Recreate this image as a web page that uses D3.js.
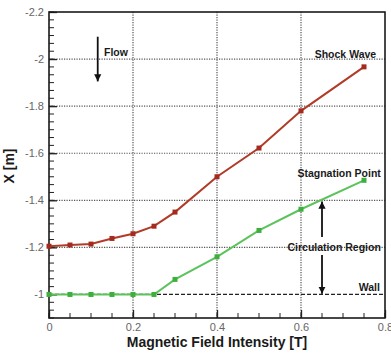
<!DOCTYPE html>
<html>
<head>
<meta charset="utf-8">
<script src="https://cdn.jsdelivr.net/npm/d3@7"></script>
<style>
  body { margin: 0; background: #fff; }
  svg { display: block; font-family: "Liberation Sans", Arial, sans-serif; }
</style>
</head>
<body>
<div id="chart"></div>
<script>
// Shock wave / stagnation point position vs magnetic field intensity
const fieldT = [0, 0.05, 0.1, 0.15, 0.2, 0.25, 0.3, 0.4, 0.5, 0.6, 0.75];
const shockWave = [-1.205, -1.21, -1.214, -1.238, -1.258, -1.29, -1.35, -1.5, -1.622, -1.78, -1.967];
const stagnation = [-1, -1, -1, -1, -1, -1, -1.064, -1.16, -1.272, -1.362, -1.485];
const xTicks = [0, 0.2, 0.4, 0.6, 0.8];
const yTicks = [-2.2, -2, -1.8, -1.6, -1.4, -1.2, -1];
const xGrid = [0.2, 0.4, 0.6];
const yGrid = [-2, -1.8, -1.6, -1.4, -1.2];
const wallX = -1;

const width = 391, height = 354;
const mLeft = 49, mRight = 385, mTop = 12, mBottom = 318;

const svg = d3.select("#chart").append("svg")
  .attr("width", width).attr("height", height);

const x = d3.scaleLinear().domain([0, 0.8]).range([mLeft, mRight]);
const y = d3.scaleLinear().domain([-0.9, -2.2]).range([mBottom, mTop]);

// arrow head
svg.append("defs").append("marker")
  .attr("id", "head")
  .attr("viewBox", "0 0 10 10")
  .attr("refX", 10).attr("refY", 5)
  .attr("markerWidth", 4).attr("markerHeight", 5)
  .attr("markerUnits", "strokeWidth")
  .attr("orient", "auto")
  .append("path").attr("d", "M0,0L10,5L0,10z").attr("fill", "#111");

// grid
svg.append("g").selectAll("line").data(yGrid).join("line")
  .attr("x1", mLeft).attr("x2", mRight)
  .attr("y1", d => y(d)).attr("y2", d => y(d))
  .attr("stroke", "#555").attr("stroke-width", 1.2)
  .attr("stroke-dasharray", "1.2,1.3");
svg.append("g").selectAll("line").data(xGrid).join("line")
  .attr("x1", d => x(d)).attr("x2", d => x(d))
  .attr("y1", mTop).attr("y2", mBottom)
  .attr("stroke", "#555").attr("stroke-width", 1.2)
  .attr("stroke-dasharray", "1.2,1.3");

// wall line
svg.append("line")
  .attr("x1", x(0)).attr("x2", x(0.8))
  .attr("y1", y(wallX)).attr("y2", y(wallX))
  .attr("stroke", "#222").attr("stroke-width", 1.3)
  .attr("stroke-dasharray", "4,2");

// minor ticks (inward)
const yMinor = d3.range(-2.2, -0.9, 0.2 / 6);
svg.append("g").selectAll("line").data(yMinor).join("line")
  .attr("x1", mLeft).attr("x2", mLeft + 5)
  .attr("y1", d => y(d)).attr("y2", d => y(d))
  .attr("stroke", "#222").attr("stroke-width", 1);
const xMinor = d3.range(0, 0.8001, 0.05);
svg.append("g").selectAll("line").data(xMinor).join("line")
  .attr("x1", d => x(d)).attr("x2", d => x(d))
  .attr("y1", mBottom).attr("y2", mBottom - 5)
  .attr("stroke", "#222").attr("stroke-width", 1);

// axes
const yAxis = svg.append("g")
  .attr("transform", `translate(${mLeft},0)`)
  .call(d3.axisLeft(y).tickValues(yTicks).tickSize(-8).tickPadding(5).tickFormat(d => String(d)));
const xAxis = svg.append("g")
  .attr("transform", `translate(0,${mBottom})`)
  .call(d3.axisBottom(x).tickValues(xTicks).tickSize(-8).tickPadding(5).tickFormat(d => String(d)));
[yAxis, xAxis].forEach(a => {
  a.select(".domain").remove();
  a.selectAll(".tick line").attr("stroke", "#222").attr("stroke-width", 1.3);
  a.selectAll(".tick text").attr("fill", "#666").style("font-size", "11px")
    .style("font-family", "'Liberation Sans', Arial, sans-serif");
});

// frame
svg.append("rect")
  .attr("x", mLeft).attr("y", mTop)
  .attr("width", mRight - mLeft).attr("height", mBottom - mTop)
  .attr("fill", "none").attr("stroke", "#1a1a1a").attr("stroke-width", 1.6);

// series
const series = [
  { values: shockWave, line: "#b13b28", mark: "#a52a1e" },
  { values: stagnation, line: "#5cc35c", mark: "#3eae3e" }
];
series.forEach(s => {
  const pts = fieldT.map((t, i) => [t, s.values[i]]);
  svg.append("path").datum(pts)
    .attr("fill", "none").attr("stroke", s.line).attr("stroke-width", 2)
    .attr("d", d3.line().x(d => x(d[0])).y(d => y(d[1])));
  svg.append("g").selectAll("rect").data(pts).join("rect")
    .attr("x", d => x(d[0]) - 2.5).attr("y", d => y(d[1]) - 2.5)
    .attr("width", 5).attr("height", 5)
    .attr("fill", s.mark);
});

// annotations
function arrow(x0, y0, x1, y1) {
  svg.append("line")
    .attr("x1", x(x0)).attr("y1", y(y0))
    .attr("x2", x(x1)).attr("y2", y(y1))
    .attr("stroke", "#111").attr("stroke-width", 1.8)
    .attr("marker-end", "url(#head)");
}
arrow(0.116, -2.095, 0.116, -1.905);
arrow(0.65, -1.244, 0.65, -1.395);
arrow(0.65, -1.168, 0.65, -1.003);

const notes = [
  { text: "Flow", x: 0.131, y: -2.0, dy: -3, anchor: "start" },
  { text: "Shock Wave", x: 0.779, y: -2.0, dy: -1, anchor: "end" },
  { text: "Stagnation Point", x: 0.79, y: -1.5, dy: 0, anchor: "end" },
  { text: "Circulation Region", x: 0.79, y: -1.2, dy: 3.5, anchor: "end" },
  { text: "Wall", x: 0.788, y: -1.0, dy: -3, anchor: "end" }
];
svg.append("g").selectAll("text").data(notes).join("text")
  .attr("x", d => x(d.x)).attr("y", d => y(d.y) + d.dy)
  .attr("text-anchor", d => d.anchor)
  .style("font-size", "10.5px").style("font-weight", "bold")
  .attr("fill", "#1a1a1a")
  .text(d => d.text);

// axis titles
svg.append("text")
  .attr("x", 217).attr("y", 347)
  .attr("text-anchor", "middle")
  .style("font-size", "14px").style("font-weight", "bold").attr("fill", "#1a1a1a")
  .text("Magnetic Field Intensity [T]");
svg.append("text")
  .attr("transform", "translate(14,166) rotate(-90)")
  .attr("text-anchor", "middle")
  .style("font-size", "14px").style("font-weight", "bold").attr("fill", "#1a1a1a")
  .text("X [m]");
</script>
</body>
</html>
